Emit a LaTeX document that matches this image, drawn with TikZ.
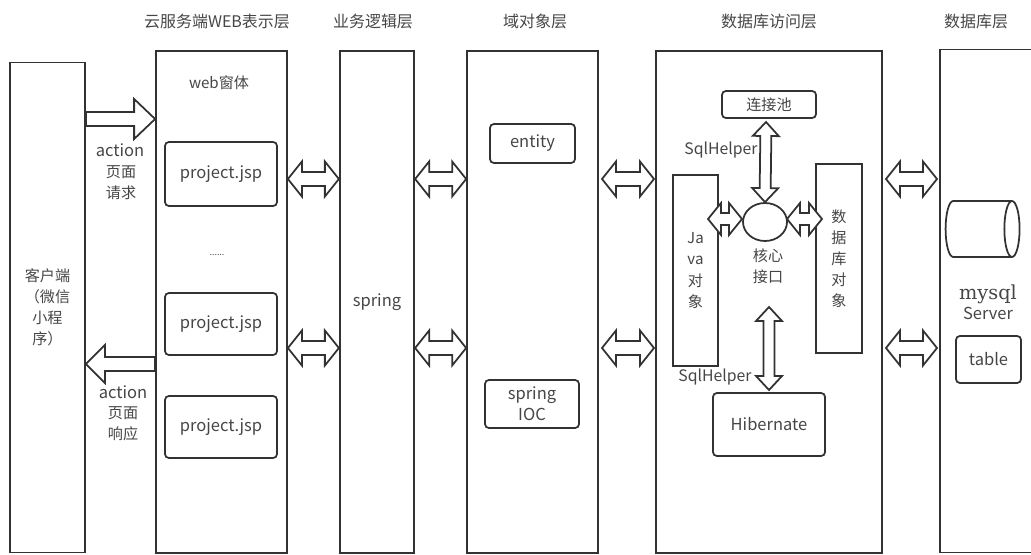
\documentclass[tikz,border=0pt]{standalone}
\usepackage{fontspec}
\setmainfont{Noto Sans CJK SC}
\newfontfamily\slabfont{DejaVu Serif}
\usetikzlibrary{positioning,calc,shapes.geometric}
\definecolor{linegray}{RGB}{50,50,50}
\definecolor{textgray}{RGB}{70,70,70}

\begin{document}
\begin{tikzpicture}[
    layer/.style={
        draw=linegray,
        line width=1pt,
        inner sep=0pt,
        text=textgray,
        align=center,
        font=\fontsize{8.6}{12}\selectfont
    },
    card/.style={
        layer,
        rounded corners=2.2pt
    },
    caption/.style={
        text=textgray,
        inner sep=0pt,
        align=center,
        font=\fontsize{8.6}{12}\selectfont
    },
    title/.style={
        caption,
        font=\fontsize{9.1}{12}\selectfont
    },
    latin/.style={
        font=\fontsize{9.4}{12}\selectfont
    },
    onearr/.style n args={3}{
        draw=linegray,
        fill=white,
        line width=1pt,
        to path={
            (\tikztotarget)
            -- ($(\tikztotarget)!#1!(\tikztostart)!#2!90:(\tikztostart)$)
            -- ($(\tikztotarget)!#1!(\tikztostart)!#3!90:(\tikztostart)$)
            -- ($(\tikztostart)!#3!-90:(\tikztotarget)$)
            -- ($(\tikztostart)!#3!90:(\tikztotarget)$)
            -- ($(\tikztotarget)!#1!(\tikztostart)!#3!-90:(\tikztostart)$)
            -- ($(\tikztotarget)!#1!(\tikztostart)!#2!-90:(\tikztostart)$)
            -- cycle
        }
    },
    twoarr/.style n args={3}{
        draw=linegray,
        fill=white,
        line width=1pt,
        to path={
            (\tikztostart)
            -- ($(\tikztostart)!#1!(\tikztotarget)!#2!90:(\tikztotarget)$)
            -- ($(\tikztostart)!#1!(\tikztotarget)!#3!90:(\tikztotarget)$)
            -- ($(\tikztotarget)!#1!(\tikztostart)!#3!-90:(\tikztostart)$)
            -- ($(\tikztotarget)!#1!(\tikztostart)!#2!-90:(\tikztostart)$)
            -- (\tikztotarget)
            -- ($(\tikztotarget)!#1!(\tikztostart)!#2!90:(\tikztostart)$)
            -- ($(\tikztotarget)!#1!(\tikztostart)!#3!90:(\tikztostart)$)
            -- ($(\tikztostart)!#1!(\tikztotarget)!#3!-90:(\tikztotarget)$)
            -- ($(\tikztostart)!#1!(\tikztotarget)!#2!-90:(\tikztotarget)$)
            -- cycle
        }
    },
    bigarr/.style={twoarr={0.28cm}{0.35cm}{0.14cm}},
    sidearr/.style={twoarr={0.26cm}{0.32cm}{0.12cm}},
    tallarr/.style={twoarr={0.28cm}{0.26cm}{0.11cm}}
]
\useasboundingbox (0,0) rectangle (20.62,11.08);

% ============================================================
% LAYER TITLES
% ============================================================

\node[title] (titleweb) at (4.34,10.66) {云服务端WEB表示层};
\node[title] (titlelogic) at (7.46,10.66) {业务逻辑层};
\node[title] (titledomain) at (10.70,10.66) {域对象层};
\node[title] (titledao) at (15.38,10.66) {数据库访问层};
\node[title] (titledb) at (19.52,10.66) {数据库层};

% ============================================================
% OUTER COLUMNS
% ============================================================

\node[layer, minimum width=1.50cm, minimum height=9.80cm] (client) at (0.95,4.93)
{客户端\\（微信\\小程\\序）};

\node[layer, minimum width=2.62cm, minimum height=10.04cm] (web) at (4.43,5.04) {};

\node[layer, latin, minimum width=1.49cm, minimum height=10.04cm] (spring) at (7.54,5.04)
{spring};

\node[layer, minimum width=2.62cm, minimum height=10.04cm] (domain) at (10.65,5.04) {};

\node[layer, minimum width=4.51cm, minimum height=10.04cm] (dao) at (15.38,5.04) {};

\node[layer, minimum width=2.20cm, minimum height=10.06cm] (db) at (19.90,5.06) {};

% row heights of the hollow arrows
\coordinate (rowtop) at (0,7.50);
\coordinate (rowlow) at (0,4.12);
\coordinate (rowreq) at (0,8.70);
\coordinate (rowres) at (0,3.80);

% arrows stop a little off these borders
\coordinate (domainout) at (12.04,0);
\coordinate (domainend) at (13.08,0);
\coordinate (daoout) at (17.72,0);
\coordinate (dbend) at (18.74,0);

% ============================================================
% WEB LAYER
% ============================================================

\node[caption] (webform) at (4.38,9.42) {web窗体};

\node[card, latin, minimum width=2.24cm, minimum height=1.28cm] (jspa) at (4.42,7.60)
{project.jsp};

\node[caption, font=\fontsize{5}{6}\selectfont] (jspdots) at (4.34,5.98) {......};

\node[card, latin, minimum width=2.24cm, minimum height=1.24cm] (jspb) at (4.42,4.60)
{project.jsp};

\node[card, latin, minimum width=2.24cm, minimum height=1.24cm] (jspc) at (4.42,2.54)
{project.jsp};

% ============================================================
% DOMAIN LAYER
% ============================================================

\node[card, latin, minimum width=1.70cm, minimum height=0.78cm] (entity) at (10.65,8.21)
{entity};

\node[card, latin, minimum width=1.88cm, minimum height=0.96cm] (ioc) at (10.64,3.00)
{spring\\IOC};

% ============================================================
% DATA ACCESS LAYER
% ============================================================

\node[card, minimum width=1.88cm, minimum height=0.54cm] (pool) at (15.38,8.99)
{连接池};

\node[layer, minimum width=0.90cm, minimum height=3.82cm] (javaobj) at (13.91,5.67)
{Ja\\va\\对\\象};

\node[layer, minimum width=0.92cm, minimum height=3.78cm] (dbobj) at (16.78,5.91)
{数\\据\\库\\对\\象};

\node[layer, ellipse, minimum width=0.88cm, minimum height=0.76cm] (core) at (15.30,6.64) {};

\node[caption] (corelabel) at (15.36,5.76) {核心\\接口};

\node[caption, font=\fontsize{9}{12}\selectfont] (helpera) at (14.42,8.08) {SqlHelper};
\node[caption, font=\fontsize{9}{12}\selectfont] (helperb) at (14.30,3.54) {SqlHelper};

\node[card, latin, minimum width=2.24cm, minimum height=1.26cm] (hibernate) at (15.38,2.59)
{Hibernate};

% ends of the arrows inside this layer
\coordinate (poolend) at (15.32,8.64);
\coordinate (hibtop) at (15.38,3.28);
\coordinate (hibend) at (15.38,4.94);
\coordinate (javain) at (14.16,6.70);
\coordinate (dbin) at (16.44,6.70);
\coordinate (coreleft) at (14.84,6.70);
\coordinate (coreright) at (15.74,6.70);

% ============================================================
% DATABASE LAYER
% ============================================================

\node[draw=linegray, line width=1pt, cylinder, shape aspect=1.3,
      minimum width=1.12cm, minimum height=1.48cm] (store) at (19.52,6.50) {};

\node[caption, font=\slabfont\fontsize{11}{12}\selectfont] (mysql) at (19.76,5.20) {mysql};
\node[caption, latin] (server) at (19.76,4.82) {Server};

\node[card, latin, minimum width=1.30cm, minimum height=0.94cm] (table) at (19.77,3.89)
{table};

% ============================================================
% HOLLOW ARROWS
% ============================================================

\draw[onearr={0.42cm}{0.40cm}{0.14cm}] (client.east |- rowreq) to (web.west |- rowreq);
\draw[onearr={0.38cm}{0.38cm}{0.14cm}] (web.west |- rowres) to (client.east |- rowres);

\draw[bigarr] (web.east |- rowtop) to (spring.west |- rowtop);
\draw[bigarr] (spring.east |- rowtop) to (domain.west |- rowtop);
\draw[bigarr] (domainout |- rowtop) to (domainend |- rowtop);
\draw[bigarr] (daoout |- rowtop) to (dbend |- rowtop);

\draw[bigarr] (web.east |- rowlow) to (spring.west |- rowlow);
\draw[bigarr] (spring.east |- rowlow) to (domain.west |- rowlow);
\draw[bigarr] (domainout |- rowlow) to (domainend |- rowlow);
\draw[bigarr] (daoout |- rowlow) to (dbend |- rowlow);

\draw[tallarr] (poolend) to (core.north);
\draw[sidearr] (coreleft) to (javain);
\draw[sidearr] (coreright) to (dbin);
\draw[tallarr] (hibend) to (hibtop);

% ============================================================
% FREE LABELS
% ============================================================

\node[caption, latin] (reqlabel) at (2.40,8.08) {action};
\node[caption] (reqtext) at (2.42,7.42) {页面\\请求};

\node[caption, latin] (reslabel) at (2.46,3.24) {action};
\node[caption] (restext) at (2.46,2.60) {页面\\响应};

\end{tikzpicture}
\end{document}
